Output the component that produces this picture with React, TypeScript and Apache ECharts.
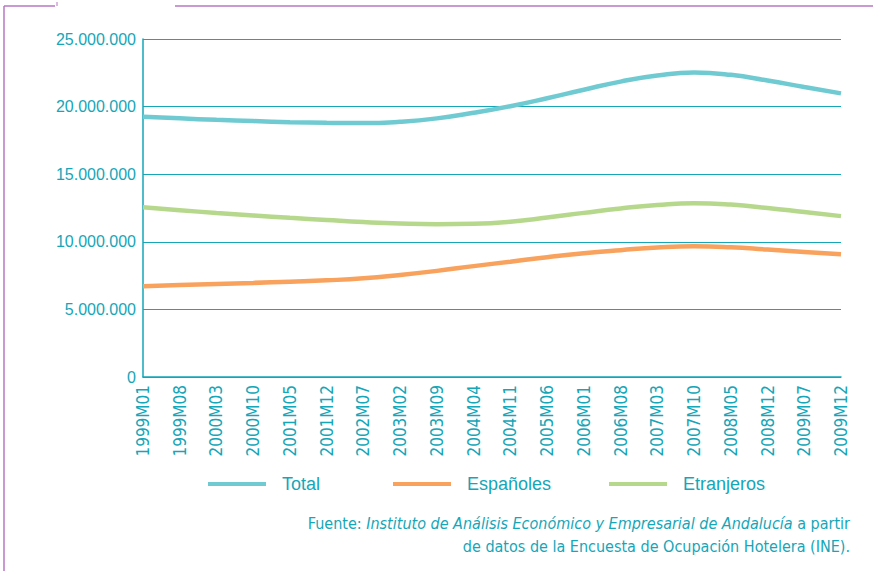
import React, { useEffect, useRef } from "react";
import * as echarts from "echarts";

const categories = [
  "1999M01", "1999M08", "2000M03", "2000M10", "2001M05", "2001M12", "2002M07",
  "2003M02", "2003M09", "2004M04", "2004M11", "2005M06", "2006M01", "2006M08",
  "2007M03", "2007M10", "2008M05", "2008M12", "2009M07", "2009M12",
];
const totalValues = [
  19250000, 19130000, 19020000, 18930000, 18850000, 18800000, 18780000,
  18880000, 19130000, 19540000, 20030000, 20620000, 21250000, 21850000,
  22300000, 22520000, 22350000, 21930000, 21450000, 20980000,
];
const espanolesValues = [
  6720000, 6800000, 6880000, 6960000, 7050000, 7150000, 7300000,
  7550000, 7850000, 8200000, 8530000, 8860000, 9150000, 9380000,
  9580000, 9670000, 9600000, 9430000, 9250000, 9080000,
];
const extranjerosValues = [
  12550000, 12340000, 12130000, 11950000, 11770000, 11610000, 11460000,
  11350000, 11300000, 11330000, 11480000, 11790000, 12140000, 12470000,
  12720000, 12850000, 12750000, 12500000, 12200000, 11900000,
];
const seriesNames = ["Total", "Españoles", "Etranjeros"];
const seriesColors = ["#6fcbd1", "#f8a25e", "#b6d88c"];
const sourceLine1Plain = "Fuente: ";
const sourceLine1Italic = "Instituto de Análisis Económico y Empresarial de Andalucía";
const sourceLine1End = " a partir";
const sourceLine2 = "de datos de la Encuesta de Ocupación Hotelera (INE).";

const TEAL = "#15a6b8";
const PURPLE = "#b877c4";
const NARROW = "'Liberation Sans Narrow', 'DejaVu Sans Condensed', Arial, sans-serif";

export default function App() {
  const ref = useRef<HTMLDivElement>(null);
  useEffect(() => {
    if (!ref.current) return;
    const chart = echarts.init(ref.current, null, { renderer: "svg" });
    const dataSets = [totalValues, espanolesValues, extranjerosValues];
    const legendLefts = [203, 388, 604];
    const fmt = (v: number) =>
      v === 0 ? "0" : String(v).replace(/\B(?=(\d{3})+(?!\d))/g, ".");
    const richStyles = {
      n: { fontSize: 16, fill: TEAL, fontFamily: NARROW },
      i: { fontSize: 16, fill: TEAL, fontStyle: "italic", fontFamily: NARROW },
    };
    chart.setOption({
      animation: false,
      grid: { left: 143, right: 32, top: 39, bottom: 194, containLabel: false },
      xAxis: {
        type: "category",
        data: categories,
        boundaryGap: false,
        axisLine: { show: true, lineStyle: { color: TEAL, width: 1.5 } },
        axisTick: { show: false },
        axisLabel: {
          rotate: 90,
          interval: 0,
          margin: 8,
          color: TEAL,
          fontSize: 17,
          fontFamily: NARROW,
        },
        splitLine: { show: false },
      },
      yAxis: {
        type: "value",
        min: 0,
        max: 25000000,
        interval: 5000000,
        axisLine: { show: true, lineStyle: { color: TEAL, width: 1.5 } },
        axisTick: { show: false },
        axisLabel: {
          color: TEAL,
          fontSize: 16,
          margin: 7,
          fontFamily: "'Liberation Sans', Arial, sans-serif",
          formatter: fmt,
        },
        splitLine: { show: true, lineStyle: { color: TEAL, width: 1 } },
      },
      legend: seriesNames.map((n, i) => ({
        data: [n],
        left: legendLefts[i],
        top: 470,
        icon: "rect",
        itemWidth: 58,
        itemHeight: 4,
        itemGap: 0,
        textStyle: {
          color: TEAL,
          fontSize: 18,
          fontFamily: "'Liberation Sans', Arial, sans-serif",
          padding: [0, 0, 0, 11],
        },
      })),
      series: seriesNames.map((n, i) => ({
        name: n,
        type: "line",
        data: dataSets[i],
        smooth: 0.5,
        showSymbol: false,
        symbol: "none",
        lineStyle: { color: seriesColors[i], width: 4.5 },
        itemStyle: { color: seriesColors[i] },
        z: 3 - i,
      })),
      graphic: [
        { type: "line", shape: { x1: 4, y1: 6, x2: 55, y2: 6 }, style: { stroke: PURPLE, lineWidth: 1.5 } },
        { type: "line", shape: { x1: 175, y1: 6, x2: 873, y2: 6 }, style: { stroke: PURPLE, lineWidth: 1.5 } },
        { type: "line", shape: { x1: 4, y1: 6, x2: 4, y2: 571 }, style: { stroke: PURPLE, lineWidth: 1.5 } },
        { type: "line", shape: { x1: 57, y1: 2, x2: 57, y2: 6 }, style: { stroke: PURPLE, lineWidth: 1 } },
        {
          type: "text",
          x: 850,
          y: 523,
          style: {
            text: `{n|${sourceLine1Plain}}{i|${sourceLine1Italic}}{n|${sourceLine1End}}`,
            align: "right",
            verticalAlign: "middle",
            fill: TEAL,
            rich: richStyles,
          },
        },
        {
          type: "text",
          x: 850,
          y: 546,
          style: {
            text: sourceLine2,
            align: "right",
            verticalAlign: "middle",
            fill: TEAL,
            fontSize: 16,
            fontFamily: NARROW,
          },
        },
      ],
    });
    return () => chart.dispose();
  }, []);
  return <div ref={ref} style={{ width: 873, height: 571, position: "absolute", left: 0, top: 0 }} />;
}
